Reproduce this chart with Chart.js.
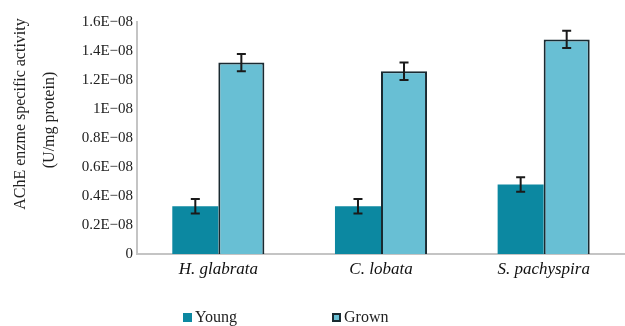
<!DOCTYPE html>
<html>
<head>
<meta charset="utf-8">
<script src="https://cdn.jsdelivr.net/npm/chart.js@4/dist/chart.umd.min.js"></script>
<style>
  html, body { margin: 0; padding: 0; background: #fff; }
  #wrap { width: 625px; height: 326px; position: relative; }
</style>
</head>
<body>
<div id="wrap"><canvas id="ache"></canvas></div>
<script>
// chart values
const species = ['H. glabrata', 'C. lobata', 'S. pachyspira'];
const youngValues = [0.33e-8, 0.33e-8, 0.48e-8];
const youngErrors = [0.05e-8, 0.05e-8, 0.05e-8];
const grownValues = [1.32e-8, 1.26e-8, 1.48e-8];
const grownErrors = [0.06e-8, 0.06e-8, 0.06e-8];
const yTickValues = [0, 0.2e-8, 0.4e-8, 0.6e-8, 0.8e-8, 1e-8, 1.2e-8, 1.4e-8, 1.6e-8];
const yTickLabels = ['0', '0.2E\u221208', '0.4E\u221208', '0.6E\u221208', '0.8E\u221208',
                     '1E\u221208', '1.2E\u221208', '1.4E\u221208', '1.6E\u221208'];
const yTitleLines = ['AChE enzme specific activity', '(U/mg protein)'];

const serif = '"Liberation Serif", "DejaVu Serif", serif';
const youngColor = '#0c88a1';
const grownColor = '#68bfd4';
const edgeColor = '#1a2a31';

// error bars drawn on top of each bar
const errorBars = {
    id: 'errorBars',
    afterDatasetsDraw(chart) {
        const ctx = chart.ctx;
        const y = chart.scales.y;
        const errs = [youngErrors, grownErrors];
        ctx.save();
        ctx.strokeStyle = '#1a1a1a';
        ctx.lineWidth = 2;
        chart.data.datasets.forEach((ds, di) => {
            chart.getDatasetMeta(di).data.forEach((bar, i) => {
                const v = ds.data[i];
                const top = y.getPixelForValue(v + errs[di][i]);
                const bot = y.getPixelForValue(v - errs[di][i]);
                ctx.beginPath();
                ctx.moveTo(bar.x, top); ctx.lineTo(bar.x, bot);
                ctx.moveTo(bar.x - 4.5, top); ctx.lineTo(bar.x + 4.5, top);
                ctx.moveTo(bar.x - 4.5, bot); ctx.lineTo(bar.x + 4.5, bot);
                ctx.stroke();
            });
        });
        ctx.restore();
    }
};

// two-line rotated y title and the bottom legend
const annotations = {
    id: 'annotations',
    afterDraw(chart) {
        const ctx = chart.ctx;
        ctx.save();
        ctx.fillStyle = '#222';
        ctx.font = '16px ' + serif;
        ctx.textAlign = 'center';
        ctx.textBaseline = 'middle';
        [[21, 114], [50, 120]].forEach((p, i) => {
            ctx.save();
            ctx.translate(p[0], p[1]);
            ctx.rotate(-Math.PI / 2);
            ctx.fillText(yTitleLines[i], 0, 0);
            ctx.restore();
        });

        // legend
        ctx.font = '16px ' + serif;
        ctx.textAlign = 'left';
        const items = [[183, youngColor, false], [332, grownColor, true]];
        chart.data.datasets.forEach((ds, i) => {
            const [x, col, edged] = items[i];
            ctx.fillStyle = col;
            ctx.fillRect(x, 313, 9, 9);
            if (edged) {
                ctx.strokeStyle = edgeColor;
                ctx.lineWidth = 2;
                ctx.strokeRect(x + 1, 314, 7, 7);
            }
            ctx.fillStyle = '#222';
            ctx.fillText(ds.label, x + 12, 318);
        });
        ctx.restore();
    }
};

new Chart(document.getElementById('ache'), {
    type: 'bar',
    data: {
        labels: species,
        datasets: [
            {
                label: 'Young',
                data: youngValues,
                backgroundColor: youngColor,
                borderWidth: 0
            },
            {
                label: 'Grown',
                data: grownValues,
                backgroundColor: grownColor,
                borderColor: edgeColor,
                borderWidth: 2
            }
        ]
    },
    options: {
        responsive: true,
        maintainAspectRatio: false,
        animation: false,
        layout: { padding: { top: 22, right: 0, bottom: 0, left: 0 } },
        datasets: { bar: { categoryPercentage: 0.566, barPercentage: 1 } },
        plugins: {
            legend: { display: false },
            tooltip: { enabled: false }
        },
        scales: {
            x: {
                grid: { display: false, drawTicks: false },
                border: { color: '#c4c4c4', width: 2 },
                ticks: {
                    color: '#111',
                    padding: 5,
                    font: { family: serif, size: 17, style: 'italic' }
                },
                afterFit(scale) { scale.height = 72; }
            },
            y: {
                min: 0,
                max: 1.6e-8,
                grid: { display: false, drawTicks: false },
                border: { color: '#c4c4c4', width: 2 },
                afterBuildTicks(scale) {
                    scale.ticks = yTickValues.map(v => ({ value: v }));
                },
                ticks: {
                    color: '#222',
                    padding: 4,
                    font: { family: serif, size: 15 },
                    callback: (v, i) => yTickLabels[i]
                },
                afterFit(scale) { scale.width = 137; }
            }
        }
    },
    plugins: [errorBars, annotations]
});
</script>
</body>
</html>
